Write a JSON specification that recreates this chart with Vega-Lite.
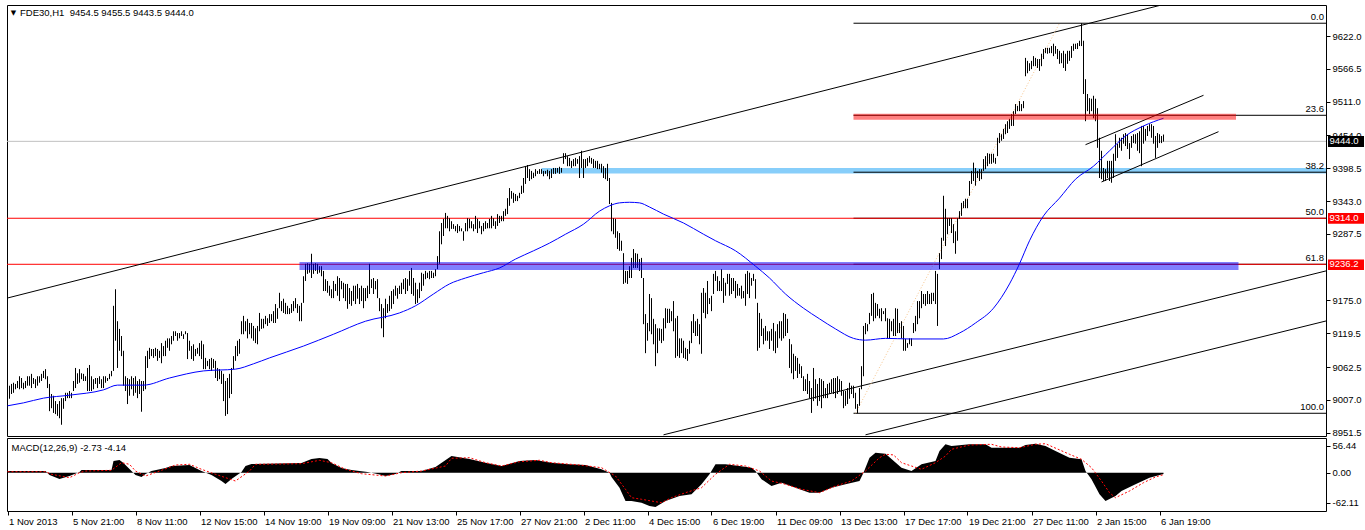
{
"$schema": "https://vega.github.io/schema/vega-lite/v6.json",
"background": "#FFFFFF",
"padding": {"left": 5, "top": 4, "right": 0, "bottom": 0},
"bounds": "flush",
"spacing": 2,
"config": {"view": {"stroke": "#000000", "strokeWidth": 1}, "font": "Liberation Sans", "text": {"font": "Liberation Sans", "fontSize": 9.5, "color": "#000000"},
 "axis": {"labelFont": "Liberation Sans", "labelFontSize": 9.5, "labelColor": "#000000", "tickColor": "#000000", "tickSize": 4, "labelPadding": 2, "domain": false, "grid": false, "title": null, "labelOverlap": false}},
"datasets": {
"bars": [
{"i":0,"h":9019,"l":8992},{"i":1,"h":9031,"l":9009},{"i":2,"h":9034,"l":9017},{"i":3,"h":9036,"l":9019},{"i":4,"h":9034,"l":9025},{"i":5,"h":9039,"l":9027},{"i":6,"h":9047,"l":9025},{"i":7,"h":9044,"l":9027},{"i":8,"h":9036,"l":9025},{"i":9,"h":9039,"l":9027},
{"i":10,"h":9047,"l":9031},{"i":11,"h":9047,"l":9031},{"i":12,"h":9051,"l":9027},{"i":13,"h":9044,"l":9034},{"i":14,"h":9042,"l":9027},{"i":15,"h":9047,"l":9031},{"i":16,"h":9047,"l":9036},{"i":17,"h":9051,"l":9039},{"i":18,"h":9056,"l":9044},{"i":19,"h":9059,"l":9042},
{"i":20,"h":9047,"l":9027},{"i":21,"h":9034,"l":8988},{"i":22,"h":9017,"l":8993},{"i":23,"h":9014,"l":8985},{"i":24,"h":9005,"l":8983},{"i":25,"h":9000,"l":8980},{"i":26,"h":9005,"l":8976},{"i":27,"h":9010,"l":8965},{"i":28,"h":9010,"l":8992},{"i":29,"h":9019,"l":9005},
{"i":30,"h":9019,"l":9010},{"i":31,"h":9022,"l":9010},{"i":32,"h":9019,"l":9010},{"i":33,"h":9039,"l":9022},{"i":34,"h":9061,"l":9027},{"i":35,"h":9052,"l":9034},{"i":36,"h":9059,"l":9036},{"i":37,"h":9052,"l":9042},{"i":38,"h":9051,"l":9039},{"i":39,"h":9047,"l":9039},
{"i":40,"h":9061,"l":9022},{"i":41,"h":9066,"l":9022},{"i":42,"h":9047,"l":9022},{"i":43,"h":9042,"l":9025},{"i":44,"h":9044,"l":9034},{"i":45,"h":9044,"l":9027},{"i":46,"h":9047,"l":9034},{"i":47,"h":9042,"l":9027},{"i":48,"h":9047,"l":9027},{"i":49,"h":9047,"l":9036},
{"i":50,"h":9044,"l":9039},{"i":51,"h":9051,"l":9042},{"i":52,"h":9056,"l":9047},{"i":53,"h":9166,"l":9056},{"i":54,"h":9194,"l":9107},{"i":55,"h":9140,"l":9061},{"i":56,"h":9127,"l":9090},{"i":57,"h":9115,"l":9081},{"i":58,"h":9090,"l":9031},{"i":59,"h":9047,"l":9022},
{"i":60,"h":9044,"l":9000},{"i":61,"h":9042,"l":9014},{"i":62,"h":9047,"l":9025},{"i":63,"h":9044,"l":9014},{"i":64,"h":9047,"l":9019},{"i":65,"h":9039,"l":9010},{"i":66,"h":9042,"l":9017},{"i":67,"h":9039,"l":8987},{"i":68,"h":9039,"l":9022},{"i":69,"h":9081,"l":9025},
{"i":70,"h":9090,"l":9061},{"i":71,"h":9095,"l":9076},{"i":72,"h":9093,"l":9081},{"i":73,"h":9093,"l":9078},{"i":74,"h":9095,"l":9081},{"i":75,"h":9093,"l":9073},{"i":76,"h":9090,"l":9078},{"i":77,"h":9103,"l":9069},{"i":78,"h":9098,"l":9081},{"i":79,"h":9107,"l":9081},
{"i":80,"h":9111,"l":9095},{"i":81,"h":9111,"l":9090},{"i":82,"h":9115,"l":9101},{"i":83,"h":9123,"l":9107},{"i":84,"h":9123,"l":9115},{"i":85,"h":9120,"l":9107},{"i":86,"h":9120,"l":9111},{"i":87,"h":9123,"l":9115},{"i":88,"h":9118,"l":9110},{"i":89,"h":9123,"l":9118},
{"i":90,"h":9120,"l":9076},{"i":91,"h":9107,"l":9090},{"i":92,"h":9098,"l":9076},{"i":93,"h":9101,"l":9073},{"i":94,"h":9093,"l":9081},{"i":95,"h":9095,"l":9085},{"i":96,"h":9103,"l":9081},{"i":97,"h":9107,"l":9076},{"i":98,"h":9101,"l":9059},{"i":99,"h":9078,"l":9059},
{"i":100,"h":9073,"l":9064},{"i":101,"h":9076,"l":9059},{"i":102,"h":9078,"l":9056},{"i":103,"h":9076,"l":9061},{"i":104,"h":9073,"l":9044},{"i":105,"h":9061,"l":9039},{"i":106,"h":9059,"l":9042},{"i":107,"h":9056,"l":9034},{"i":108,"h":9051,"l":9005},{"i":109,"h":9039,"l":8980},
{"i":110,"h":9044,"l":8983},{"i":111,"h":9051,"l":9010},{"i":112,"h":9061,"l":9017},{"i":113,"h":9081,"l":9059},{"i":114,"h":9098,"l":9073},{"i":115,"h":9107,"l":9081},{"i":116,"h":9110,"l":9085},{"i":117,"h":9140,"l":9118},{"i":118,"h":9149,"l":9118},{"i":119,"h":9140,"l":9123},
{"i":120,"h":9144,"l":9111},{"i":121,"h":9137,"l":9118},{"i":122,"h":9137,"l":9111},{"i":123,"h":9132,"l":9107},{"i":124,"h":9128,"l":9103},{"i":125,"h":9132,"l":9101},{"i":126,"h":9154,"l":9123},{"i":127,"h":9144,"l":9127},{"i":128,"h":9144,"l":9128},{"i":129,"h":9149,"l":9135},
{"i":130,"h":9145,"l":9132},{"i":131,"h":9152,"l":9137},{"i":132,"h":9152,"l":9140},{"i":133,"h":9157,"l":9137},{"i":134,"h":9169,"l":9137},{"i":135,"h":9162,"l":9144},{"i":136,"h":9188,"l":9162},{"i":137,"h":9174,"l":9157},{"i":138,"h":9178,"l":9154},{"i":139,"h":9171,"l":9152},
{"i":140,"h":9166,"l":9152},{"i":141,"h":9162,"l":9152},{"i":142,"h":9169,"l":9154},{"i":143,"h":9174,"l":9157},{"i":144,"h":9179,"l":9162},{"i":145,"h":9169,"l":9154},{"i":146,"h":9166,"l":9140},{"i":147,"h":9171,"l":9140},{"i":148,"h":9216,"l":9171},{"i":149,"h":9237,"l":9208},
{"i":150,"h":9238,"l":9220},{"i":151,"h":9237,"l":9222},{"i":152,"h":9254,"l":9213},{"i":153,"h":9237,"l":9220},{"i":154,"h":9238,"l":9225},{"i":155,"h":9237,"l":9220},{"i":156,"h":9233,"l":9222},{"i":157,"h":9233,"l":9216},{"i":158,"h":9225,"l":9191},{"i":159,"h":9211,"l":9191},
{"i":160,"h":9208,"l":9188},{"i":161,"h":9200,"l":9183},{"i":162,"h":9194,"l":9179},{"i":163,"h":9208,"l":9179},{"i":164,"h":9203,"l":9191},{"i":165,"h":9216,"l":9183},{"i":166,"h":9213,"l":9174},{"i":167,"h":9208,"l":9194},{"i":168,"h":9205,"l":9179},{"i":169,"h":9203,"l":9174},
{"i":170,"h":9203,"l":9161},{"i":171,"h":9196,"l":9169},{"i":172,"h":9191,"l":9166},{"i":173,"h":9200,"l":9174},{"i":174,"h":9200,"l":9169},{"i":175,"h":9203,"l":9178},{"i":176,"h":9196,"l":9169},{"i":177,"h":9200,"l":9174},{"i":178,"h":9196,"l":9162},{"i":179,"h":9196,"l":9174},
{"i":180,"h":9200,"l":9179},{"i":181,"h":9237,"l":9186},{"i":182,"h":9211,"l":9196},{"i":183,"h":9213,"l":9186},{"i":184,"h":9208,"l":9194},{"i":185,"h":9211,"l":9179},{"i":186,"h":9179,"l":9157},{"i":187,"h":9169,"l":9128},{"i":188,"h":9162,"l":9113},{"i":189,"h":9178,"l":9145},
{"i":190,"h":9169,"l":9154},{"i":191,"h":9183,"l":9157},{"i":192,"h":9191,"l":9161},{"i":193,"h":9194,"l":9169},{"i":194,"h":9200,"l":9183},{"i":195,"h":9196,"l":9178},{"i":196,"h":9200,"l":9186},{"i":197,"h":9205,"l":9186},{"i":198,"h":9211,"l":9194},{"i":199,"h":9213,"l":9186},
{"i":200,"h":9211,"l":9191},{"i":201,"h":9225,"l":9200},{"i":202,"h":9230,"l":9186},{"i":203,"h":9213,"l":9183},{"i":204,"h":9205,"l":9169},{"i":205,"h":9194,"l":9171},{"i":206,"h":9205,"l":9179},{"i":207,"h":9222,"l":9191},{"i":208,"h":9220,"l":9200},{"i":209,"h":9225,"l":9211},
{"i":210,"h":9222,"l":9213},{"i":211,"h":9225,"l":9211},{"i":212,"h":9225,"l":9213},{"i":213,"h":9222,"l":9213},{"i":214,"h":9228,"l":9216},{"i":215,"h":9250,"l":9228},{"i":216,"h":9292,"l":9237},{"i":217,"h":9306,"l":9270},{"i":218,"h":9313,"l":9284},{"i":219,"h":9323,"l":9297},
{"i":220,"h":9318,"l":9297},{"i":221,"h":9314,"l":9292},{"i":222,"h":9309,"l":9296},{"i":223,"h":9304,"l":9296},{"i":224,"h":9301,"l":9292},{"i":225,"h":9304,"l":9289},{"i":226,"h":9301,"l":9292},{"i":227,"h":9297,"l":9292},{"i":228,"h":9292,"l":9276},{"i":229,"h":9306,"l":9292},
{"i":230,"h":9314,"l":9292},{"i":231,"h":9313,"l":9297},{"i":232,"h":9309,"l":9297},{"i":233,"h":9304,"l":9292},{"i":234,"h":9318,"l":9296},{"i":235,"h":9313,"l":9289},{"i":236,"h":9309,"l":9297},{"i":237,"h":9301,"l":9287},{"i":238,"h":9306,"l":9292},{"i":239,"h":9309,"l":9296},
{"i":240,"h":9306,"l":9297},{"i":241,"h":9313,"l":9297},{"i":242,"h":9318,"l":9297},{"i":243,"h":9314,"l":9301},{"i":244,"h":9309,"l":9296},{"i":245,"h":9321,"l":9301},{"i":246,"h":9318,"l":9306},{"i":247,"h":9318,"l":9309},{"i":248,"h":9326,"l":9309},{"i":249,"h":9330,"l":9318},
{"i":250,"h":9348,"l":9321},{"i":251,"h":9365,"l":9335},{"i":252,"h":9360,"l":9347},{"i":253,"h":9357,"l":9340},{"i":254,"h":9355,"l":9343},{"i":255,"h":9352,"l":9343},{"i":256,"h":9357,"l":9348},{"i":257,"h":9369,"l":9355},{"i":258,"h":9382,"l":9357},{"i":259,"h":9402,"l":9372},
{"i":260,"h":9404,"l":9382},{"i":261,"h":9397,"l":9377},{"i":262,"h":9394,"l":9380},{"i":263,"h":9391,"l":9382},{"i":264,"h":9397,"l":9385},{"i":265,"h":9394,"l":9389},{"i":266,"h":9397,"l":9389},{"i":267,"h":9397,"l":9389},{"i":268,"h":9394,"l":9385},{"i":269,"h":9394,"l":9389},
{"i":270,"h":9396,"l":9385},{"i":271,"h":9394,"l":9380},{"i":272,"h":9397,"l":9382},{"i":273,"h":9399,"l":9389},{"i":274,"h":9399,"l":9389},{"i":275,"h":9399,"l":9391},{"i":276,"h":9401,"l":9389},{"i":277,"h":9399,"l":9391},{"i":278,"h":9424,"l":9406},{"i":279,"h":9424,"l":9414},
{"i":280,"h":9419,"l":9402},{"i":281,"h":9416,"l":9402},{"i":282,"h":9411,"l":9399},{"i":283,"h":9414,"l":9402},{"i":284,"h":9416,"l":9402},{"i":285,"h":9414,"l":9406},{"i":286,"h":9419,"l":9382},{"i":287,"h":9428,"l":9399},{"i":288,"h":9414,"l":9382},{"i":289,"h":9414,"l":9399},
{"i":290,"h":9416,"l":9402},{"i":291,"h":9419,"l":9408},{"i":292,"h":9416,"l":9406},{"i":293,"h":9414,"l":9399},{"i":294,"h":9411,"l":9399},{"i":295,"h":9411,"l":9397},{"i":296,"h":9406,"l":9397},{"i":297,"h":9406,"l":9391},{"i":298,"h":9402,"l":9382},{"i":299,"h":9399,"l":9380},
{"i":300,"h":9406,"l":9377},{"i":301,"h":9382,"l":9338},{"i":302,"h":9340,"l":9292},{"i":303,"h":9314,"l":9287},{"i":304,"h":9313,"l":9281},{"i":305,"h":9292,"l":9262},{"i":306,"h":9289,"l":9259},{"i":307,"h":9276,"l":9259},{"i":308,"h":9255,"l":9203},{"i":309,"h":9225,"l":9205},
{"i":310,"h":9225,"l":9203},{"i":311,"h":9233,"l":9213},{"i":312,"h":9247,"l":9213},{"i":313,"h":9262,"l":9230},{"i":314,"h":9255,"l":9230},{"i":315,"h":9254,"l":9230},{"i":316,"h":9245,"l":9225},{"i":317,"h":9247,"l":9213},{"i":318,"h":9213,"l":9135},{"i":319,"h":9152,"l":9086},
{"i":320,"h":9137,"l":9107},{"i":321,"h":9186,"l":9123},{"i":322,"h":9179,"l":9118},{"i":323,"h":9144,"l":9101},{"i":324,"h":9135,"l":9064},{"i":325,"h":9128,"l":9086},{"i":326,"h":9128,"l":9107},{"i":327,"h":9127,"l":9103},{"i":328,"h":9145,"l":9107},{"i":329,"h":9162,"l":9128},
{"i":330,"h":9161,"l":9137},{"i":331,"h":9161,"l":9137},{"i":332,"h":9157,"l":9140},{"i":333,"h":9174,"l":9123},{"i":334,"h":9145,"l":9078},{"i":335,"h":9149,"l":9081},{"i":336,"h":9111,"l":9078},{"i":337,"h":9111,"l":9086},{"i":338,"h":9107,"l":9078},{"i":339,"h":9095,"l":9076},
{"i":340,"h":9093,"l":9073},{"i":341,"h":9107,"l":9085},{"i":342,"h":9140,"l":9103},{"i":343,"h":9152,"l":9120},{"i":344,"h":9140,"l":9115},{"i":345,"h":9144,"l":9115},{"i":346,"h":9135,"l":9101},{"i":347,"h":9188,"l":9085},{"i":348,"h":9196,"l":9154},{"i":349,"h":9188,"l":9145},
{"i":350,"h":9208,"l":9152},{"i":351,"h":9179,"l":9169},{"i":352,"h":9183,"l":9157},{"i":353,"h":9220,"l":9186},{"i":354,"h":9225,"l":9208},{"i":355,"h":9216,"l":9191},{"i":356,"h":9208,"l":9191},{"i":357,"h":9228,"l":9191},{"i":358,"h":9213,"l":9171},{"i":359,"h":9205,"l":9183},
{"i":360,"h":9220,"l":9203},{"i":361,"h":9220,"l":9183},{"i":362,"h":9213,"l":9186},{"i":363,"h":9213,"l":9191},{"i":364,"h":9208,"l":9179},{"i":365,"h":9203,"l":9183},{"i":366,"h":9196,"l":9183},{"i":367,"h":9200,"l":9178},{"i":368,"h":9191,"l":9179},{"i":369,"h":9220,"l":9166},
{"i":370,"h":9225,"l":9186},{"i":371,"h":9222,"l":9179},{"i":372,"h":9213,"l":9200},{"i":373,"h":9220,"l":9208},{"i":374,"h":9211,"l":9178},{"i":375,"h":9171,"l":9090},{"i":376,"h":9154,"l":9095},{"i":377,"h":9144,"l":9115},{"i":378,"h":9128,"l":9101},{"i":379,"h":9132,"l":9107},
{"i":380,"h":9123,"l":9107},{"i":381,"h":9123,"l":9093},{"i":382,"h":9127,"l":9107},{"i":383,"h":9137,"l":9090},{"i":384,"h":9123,"l":9086},{"i":385,"h":9135,"l":9095},{"i":386,"h":9140,"l":9111},{"i":387,"h":9140,"l":9107},{"i":388,"h":9154,"l":9111},{"i":389,"h":9152,"l":9115},
{"i":390,"h":9144,"l":9120},{"i":391,"h":9110,"l":9061},{"i":392,"h":9101,"l":9052},{"i":393,"h":9085,"l":9042},{"i":394,"h":9081,"l":9056},{"i":395,"h":9078,"l":9044},{"i":396,"h":9068,"l":9051},{"i":397,"h":9064,"l":9044},{"i":398,"h":9047,"l":9022},{"i":399,"h":9042,"l":9022},
{"i":400,"h":9051,"l":9017},{"i":401,"h":9039,"l":9010},{"i":402,"h":9027,"l":8985},{"i":403,"h":9061,"l":9005},{"i":404,"h":9042,"l":9009},{"i":405,"h":9034,"l":8997},{"i":406,"h":9044,"l":9005},{"i":407,"h":9042,"l":8993},{"i":408,"h":9039,"l":9010},{"i":409,"h":9027,"l":9010},
{"i":410,"h":9034,"l":9010},{"i":411,"h":9036,"l":9017},{"i":412,"h":9042,"l":9019},{"i":413,"h":9044,"l":9017},{"i":414,"h":9044,"l":9010},{"i":415,"h":9047,"l":9017},{"i":416,"h":9042,"l":9022},{"i":417,"h":9039,"l":9014},{"i":418,"h":9022,"l":8993},{"i":419,"h":9022,"l":8997},
{"i":420,"h":9027,"l":9000},{"i":421,"h":9036,"l":9009},{"i":422,"h":9031,"l":9017},{"i":423,"h":9031,"l":9010},{"i":424,"h":9019,"l":8992},{"i":425,"h":9000,"l":8984.4},{"i":426,"h":9027,"l":8997},{"i":427,"h":9064,"l":9025},{"i":428,"h":9132,"l":9047},{"i":429,"h":9137,"l":9118},
{"i":430,"h":9135,"l":9123},{"i":431,"h":9154,"l":9135},{"i":432,"h":9186,"l":9149},{"i":433,"h":9188,"l":9140},{"i":434,"h":9171,"l":9145},{"i":435,"h":9169,"l":9149},{"i":436,"h":9161,"l":9145},{"i":437,"h":9162,"l":9140},{"i":438,"h":9157,"l":9152},{"i":439,"h":9162,"l":9140},
{"i":440,"h":9145,"l":9111},{"i":441,"h":9144,"l":9111},{"i":442,"h":9140,"l":9123},{"i":443,"h":9144,"l":9115},{"i":444,"h":9162,"l":9115},{"i":445,"h":9161,"l":9120},{"i":446,"h":9137,"l":9120},{"i":447,"h":9140,"l":9111},{"i":448,"h":9132,"l":9090},{"i":449,"h":9110,"l":9090},
{"i":450,"h":9103,"l":9095},{"i":451,"h":9111,"l":9101},{"i":452,"h":9111,"l":9098},{"i":453,"h":9137,"l":9120},{"i":454,"h":9149,"l":9123},{"i":455,"h":9174,"l":9135},{"i":456,"h":9174,"l":9145},{"i":457,"h":9191,"l":9162},{"i":458,"h":9186,"l":9169},{"i":459,"h":9186,"l":9166},
{"i":460,"h":9191,"l":9169},{"i":461,"h":9186,"l":9169},{"i":462,"h":9188,"l":9169},{"i":463,"h":9188,"l":9174},{"i":464,"h":9225,"l":9169},{"i":465,"h":9220,"l":9132},{"i":466,"h":9255,"l":9228},{"i":467,"h":9281,"l":9245},{"i":468,"h":9352,"l":9276},{"i":469,"h":9330,"l":9267},
{"i":470,"h":9314,"l":9287},{"i":471,"h":9314,"l":9301},{"i":472,"h":9314,"l":9289},{"i":473,"h":9304,"l":9272},{"i":474,"h":9292,"l":9254},{"i":475,"h":9314,"l":9276},{"i":476,"h":9326,"l":9313},{"i":477,"h":9340,"l":9318},{"i":478,"h":9343,"l":9331},{"i":479,"h":9347,"l":9331},
{"i":480,"h":9347,"l":9331},{"i":481,"h":9377,"l":9352},{"i":482,"h":9394,"l":9372},{"i":483,"h":9408,"l":9377},{"i":484,"h":9399,"l":9369},{"i":485,"h":9394,"l":9382},{"i":486,"h":9397,"l":9377},{"i":487,"h":9397,"l":9380},{"i":488,"h":9414,"l":9394},{"i":489,"h":9419,"l":9397},
{"i":490,"h":9424,"l":9402},{"i":491,"h":9423,"l":9406},{"i":492,"h":9423,"l":9406},{"i":493,"h":9423,"l":9408},{"i":494,"h":9416,"l":9406},{"i":495,"h":9450,"l":9419},{"i":496,"h":9458,"l":9441},{"i":497,"h":9456,"l":9445},{"i":498,"h":9465,"l":9448},{"i":499,"h":9473,"l":9456},
{"i":500,"h":9478,"l":9458},{"i":501,"h":9482,"l":9465},{"i":502,"h":9490,"l":9470},{"i":503,"h":9495,"l":9470},{"i":504,"h":9507,"l":9490},{"i":505,"h":9504,"l":9495},{"i":506,"h":9512,"l":9495},{"i":507,"h":9507,"l":9495},{"i":508,"h":9512,"l":9500},{"i":509,"h":9585,"l":9554},
{"i":510,"h":9580,"l":9559},{"i":511,"h":9576,"l":9563},{"i":512,"h":9580,"l":9566},{"i":513,"h":9588,"l":9571},{"i":514,"h":9585,"l":9571},{"i":515,"h":9583,"l":9568},{"i":516,"h":9583,"l":9563},{"i":517,"h":9592,"l":9571},{"i":518,"h":9600,"l":9583},{"i":519,"h":9602,"l":9593},
{"i":520,"h":9602,"l":9592},{"i":521,"h":9602,"l":9593},{"i":522,"h":9605,"l":9593},{"i":523,"h":9609,"l":9588},{"i":524,"h":9605,"l":9592},{"i":525,"h":9600,"l":9583},{"i":526,"h":9597,"l":9575},{"i":527,"h":9593,"l":9576},{"i":528,"h":9597,"l":9568},{"i":529,"h":9592,"l":9563},
{"i":530,"h":9597,"l":9575},{"i":531,"h":9597,"l":9580},{"i":532,"h":9605,"l":9585},{"i":533,"h":9609,"l":9597},{"i":534,"h":9609,"l":9600},{"i":535,"h":9610,"l":9600},{"i":536,"h":9614,"l":9605},{"i":537,"h":9643.6,"l":9605},{"i":538,"h":9614,"l":9524},{"i":539,"h":9549,"l":9478},
{"i":540,"h":9524,"l":9495},{"i":541,"h":9517,"l":9490},{"i":542,"h":9516,"l":9495},{"i":543,"h":9521,"l":9483},{"i":544,"h":9516,"l":9478},{"i":545,"h":9500,"l":9433},{"i":546,"h":9450,"l":9382},{"i":547,"h":9428,"l":9380},{"i":548,"h":9399,"l":9377},{"i":549,"h":9397,"l":9377},
{"i":550,"h":9411,"l":9382},{"i":551,"h":9411,"l":9377},{"i":552,"h":9411,"l":9374},{"i":553,"h":9423,"l":9382},{"i":554,"h":9456,"l":9411},{"i":555,"h":9440,"l":9416},{"i":556,"h":9450,"l":9433},{"i":557,"h":9450,"l":9428},{"i":558,"h":9456,"l":9440},{"i":559,"h":9458,"l":9436},
{"i":560,"h":9456,"l":9431},{"i":561,"h":9441,"l":9414},{"i":562,"h":9453,"l":9433},{"i":563,"h":9456,"l":9441},{"i":564,"h":9456,"l":9440},{"i":565,"h":9458,"l":9428},{"i":566,"h":9461,"l":9424},{"i":567,"h":9470,"l":9402},{"i":568,"h":9470,"l":9440},{"i":569,"h":9465,"l":9445},
{"i":570,"h":9470,"l":9453},{"i":571,"h":9473,"l":9461},{"i":572,"h":9473,"l":9450},{"i":573,"h":9470,"l":9440},{"i":574,"h":9453,"l":9416},{"i":575,"h":9458,"l":9433},{"i":576,"h":9456,"l":9441},{"i":577,"h":9453,"l":9441},{"i":578,"h":9455.5,"l":9443.5}
],
"ma": [
{"i":0,"p":8997},{"i":8,"p":9002},{"i":18,"p":9010},{"i":31,"p":9015},{"i":48,"p":9024},{"i":55,"p":9032},{"i":68,"p":9032},{"i":81,"p":9044},{"i":98,"p":9056},{"i":114,"p":9059},{"i":123,"p":9068},{"i":131,"p":9078},{"i":148,"p":9098},{"i":163,"p":9118},{"i":179,"p":9140},{"i":196,"p":9154},{"i":204,"p":9166},{"i":213,"p":9186},{"i":221,"p":9203},{"i":229,"p":9213},{"i":238,"p":9222},{"i":246,"p":9230},{"i":254,"p":9245},{"i":263,"p":9259},{"i":271,"p":9272},{"i":279,"p":9287},{"i":288,"p":9304},{"i":296,"p":9326},{"i":301,"p":9335},{"i":306,"p":9340},{"i":311,"p":9341},{"i":316,"p":9340},{"i":321,"p":9333},{"i":328,"p":9321},{"i":338,"p":9306},{"i":348,"p":9287},{"i":354,"p":9276},{"i":364,"p":9259},{"i":374,"p":9233},{"i":381,"p":9213},{"i":389,"p":9186},{"i":398,"p":9162},{"i":406,"p":9144},{"i":414,"p":9127},{"i":423,"p":9111},{"i":429,"p":9108},{"i":439,"p":9111},{"i":451,"p":9110},{"i":468,"p":9110},{"i":476,"p":9120},{"i":484,"p":9137},{"i":493,"p":9162},{"i":501,"p":9203},{"i":506,"p":9237},{"i":511,"p":9276},{"i":518,"p":9318},{"i":526,"p":9348},{"i":534,"p":9380},{"i":543,"p":9402},{"i":551,"p":9428},{"i":559,"p":9453},{"i":568,"p":9470},{"i":578,"p":9483}
],
"macd": [
{"i":0,"m":3.5},{"i":19,"m":3.5},{"i":21,"m":-4.8},{"i":26,"m":-13.1},{"i":31,"m":-6.9},{"i":36,"m":1.5},{"i":37,"m":5.6},{"i":52,"m":5.6},{"i":53,"m":24.3},{"i":56,"m":26.4},{"i":58,"m":20.2},{"i":61,"m":7.7},{"i":64,"m":-4.8},{"i":67,"m":-8.9},{"i":69,"m":-2.7},{"i":72,"m":3.5},{"i":79,"m":9.8},{"i":82,"m":13.9},{"i":91,"m":16},{"i":97,"m":3.5},{"i":102,"m":-4.8},{"i":107,"m":-17.3},{"i":109,"m":-23.5},{"i":112,"m":-13.1},{"i":117,"m":1.5},{"i":119,"m":13.9},{"i":122,"m":18.1},{"i":147,"m":20.2},{"i":152,"m":28.5},{"i":156,"m":30.6},{"i":160,"m":28.5},{"i":162,"m":20.2},{"i":167,"m":9.8},{"i":172,"m":5.6},{"i":180,"m":1.5},{"i":185,"m":-2.7},{"i":189,"m":-6.9},{"i":194,"m":-2.7},{"i":197,"m":3.5},{"i":207,"m":3.5},{"i":214,"m":11.9},{"i":222,"m":34.7},{"i":231,"m":28.5},{"i":239,"m":20.8},{"i":247,"m":13.9},{"i":256,"m":24.3},{"i":264,"m":26.4},{"i":272,"m":20.8},{"i":281,"m":17.5},{"i":289,"m":16},{"i":297,"m":7.1},{"i":301,"m":0},{"i":302,"m":-8.9},{"i":306,"m":-31.2},{"i":309,"m":-58.9},{"i":312,"m":-58.9},{"i":317,"m":-62.4},{"i":321,"m":-69.3},{"i":324,"m":-71.3},{"i":329,"m":-58.9},{"i":336,"m":-48.5},{"i":342,"m":-44.9},{"i":347,"m":-24.1},{"i":351,"m":-3.3},{"i":354,"m":17.5},{"i":359,"m":17.5},{"i":366,"m":13.9},{"i":372,"m":10.4},{"i":374,"m":3.5},{"i":377,"m":-13.7},{"i":382,"m":-27.7},{"i":387,"m":-20.8},{"i":394,"m":-31.2},{"i":401,"m":-41.6},{"i":406,"m":-41.6},{"i":412,"m":-31.2},{"i":419,"m":-24.1},{"i":426,"m":-17.3},{"i":428,"m":0},{"i":431,"m":31.2},{"i":434,"m":41.6},{"i":439,"m":39.5},{"i":442,"m":28.5},{"i":447,"m":10.4},{"i":452,"m":3.5},{"i":457,"m":17.5},{"i":464,"m":24.3},{"i":466,"m":45.1},{"i":469,"m":59.1},{"i":472,"m":55.5},{"i":481,"m":59.1},{"i":489,"m":59.1},{"i":492,"m":52},{"i":506,"m":52},{"i":509,"m":57.6},{"i":514,"m":60.3},{"i":519,"m":55.5},{"i":524,"m":45.1},{"i":531,"m":31.2},{"i":537,"m":27.9},{"i":539,"m":3.5},{"i":542,"m":-13.7},{"i":546,"m":-44.9},{"i":549,"m":-58.9},{"i":554,"m":-48.5},{"i":557,"m":-38.1},{"i":564,"m":-24.1},{"i":571,"m":-10.4},{"i":578,"m":-2.73}
],
"sig": [
{"i":0,"s":2.1},{"i":19,"s":2.1},{"i":22,"s":-3.3},{"i":31,"s":-10.4},{"i":36,"s":0},{"i":39,"s":3.5},{"i":52,"s":5},{"i":57,"s":20.8},{"i":61,"s":17.5},{"i":64,"s":3.5},{"i":69,"s":-6.9},{"i":76,"s":3.5},{"i":84,"s":16},{"i":91,"s":17.5},{"i":97,"s":7.1},{"i":104,"s":-3.3},{"i":114,"s":-17.3},{"i":121,"s":3.5},{"i":124,"s":17.5},{"i":147,"s":18.7},{"i":156,"s":25.8},{"i":162,"s":20.8},{"i":169,"s":7.1},{"i":177,"s":-2.1},{"i":189,"s":-6.9},{"i":197,"s":0},{"i":207,"s":3.5},{"i":219,"s":13.9},{"i":222,"s":30},{"i":231,"s":31.2},{"i":239,"s":20.8},{"i":247,"s":13.9},{"i":256,"s":22.9},{"i":266,"s":25.8},{"i":272,"s":20.8},{"i":286,"s":16},{"i":297,"s":10.4},{"i":304,"s":-6.9},{"i":309,"s":-34.5},{"i":312,"s":-52},{"i":317,"s":-55.3},{"i":322,"s":-58.9},{"i":327,"s":-62.4},{"i":332,"s":-52},{"i":339,"s":-41.6},{"i":347,"s":-31.2},{"i":354,"s":-3.3},{"i":361,"s":17.5},{"i":369,"s":13.9},{"i":376,"s":3.5},{"i":382,"s":-17.3},{"i":389,"s":-24.1},{"i":397,"s":-34.5},{"i":406,"s":-41.6},{"i":414,"s":-27.7},{"i":422,"s":-17.3},{"i":429,"s":3.5},{"i":436,"s":31.2},{"i":439,"s":38.3},{"i":443,"s":37},{"i":447,"s":20.8},{"i":452,"s":13.9},{"i":457,"s":7.1},{"i":464,"s":20.8},{"i":469,"s":34.7},{"i":472,"s":48.7},{"i":481,"s":57.6},{"i":492,"s":59.1},{"i":497,"s":53.5},{"i":506,"s":52},{"i":514,"s":59.1},{"i":519,"s":60.3},{"i":531,"s":38.3},{"i":537,"s":27.9},{"i":542,"s":10.4},{"i":547,"s":-17.3},{"i":551,"s":-41.6},{"i":554,"s":-52},{"i":561,"s":-38.1},{"i":568,"s":-20.8},{"i":574,"s":-8.9},{"i":578,"s":-4.14}
],
"trend": [
{"id":"up","i":0,"p":9179.2},{"id":"up","i":579.5,"p":9676.6},
{"id":"lo1","i":328,"p":8948},{"id":"lo1","i":659.25,"p":9225},
{"id":"lo2","i":429,"p":8948},{"id":"lo2","i":659.25,"p":9140.4},
{"id":"ch1","i":539,"p":9438.3},{"id":"ch1","i":598,"p":9521.8},
{"id":"ch2","i":547,"p":9375.3},{"id":"ch2","i":605.5,"p":9460.3}
],
"fibln": [{"i":424,"p":8984.4},{"i":526,"p":9643.6}],
"fib": [{"lv":"0.0","p":9643.6,"i":423,"i2":659.25},{"lv":"23.6","p":9488,"i":423,"i2":659.25},{"lv":"38.2","p":9391.8,"i":423,"i2":659.25},{"lv":"50.0","p":9314,"i":423,"i2":659.25},{"lv":"61.8","p":9236.2,"i":423,"i2":659.25},{"lv":"100.0","p":8984.4,"i":423,"i2":659.25}],
"hlines": [{"p":9314},{"p":9236.2}],
"tags": [{"t":"9444.0","c":9444,"i":660.25,"i2":678.25,"p":9453,"p2":9434.5},{"t":"9314.0","c":9314,"i":660.25,"i2":678.25,"p":9323,"p2":9304.5},{"t":"9236.2","c":9236.2,"i":660.25,"i2":678.25,"p":9244.5,"p2":9226.5}]
},
"vconcat": [
{
"width": 1319, "height": 431,
"encoding": {
 "x": {"field": "i", "type": "quantitative", "scale": {"domain": [-0.25, 659.25], "nice": false, "zero": false}, "axis": null},
 "y": {"field": "p", "type": "quantitative", "scale": {"domain": [8946, 9674.4], "nice": false, "zero": false},
  "axis": {"orient": "right", "values": [8951.5, 9007, 9062.5, 9119.5, 9175, 9287.5, 9343, 9398.5, 9454, 9511, 9566.5, 9622], "format": ".1f", "labelBaseline": "middle"}}
},
"layer": [
{"data": {"values": [{"i": 267, "i2": 659.25, "p": 9399, "p2": 9389.5}]}, "mark": {"type": "rect", "color": "#87CEFA"},
 "encoding": {"x2": {"field": "i2"}, "y2": {"field": "p2"}}},
{"data": {"name": "fib"}, "mark": {"type": "rule", "color": "#000000", "strokeWidth": 1},
 "encoding": {"x2": {"field": "i2"}}},
{"data": {"values": [{"p": 9444}]}, "mark": {"type": "rule", "color": "#C0C0C0", "strokeWidth": 1},
 "encoding": {"x": null}},
{"data": {"name": "hlines"}, "mark": {"type": "rule", "color": "#FF0000", "strokeWidth": 1},
 "encoding": {"x": null}},
{"data": {"name": "trend"}, "mark": {"type": "line", "color": "#000000", "strokeWidth": 1, "clip": true},
 "encoding": {"detail": {"field": "id"}}},
{"data": {"name": "fibln"}, "mark": {"type": "line", "color": "#F7C48B", "strokeWidth": 1, "strokeDash": [1, 2]},
 "encoding": {}},
{"data": {"name": "bars"}, "mark": {"type": "rule", "color": "#000000", "strokeWidth": 1},
 "encoding": {"y": {"field": "l", "type": "quantitative"}, "y2": {"field": "h"}}},
{"data": {"name": "ma"}, "mark": {"type": "line", "color": "#0000FF", "strokeWidth": 1, "interpolate": "monotone"},
 "encoding": {}},
{"data": {"values": [{"i": 146, "i2": 615.5, "p": 9240, "p2": 9226.5}]}, "mark": {"type": "rect", "color": "#0000FF", "opacity": 0.5},
 "encoding": {"x2": {"field": "i2"}, "y2": {"field": "p2"}}},
{"data": {"values": [{"i": 423, "i2": 614.25, "p": 9490.6, "p2": 9480.6}]}, "mark": {"type": "rect", "color": "#FF0000", "opacity": 0.5},
 "encoding": {"x2": {"field": "i2"}, "y2": {"field": "p2"}}},
{"data": {"name": "fib"}, "mark": {"type": "text", "align": "right", "baseline": "alphabetic", "dx": -2, "dy": -3, "fontSize": 9.5, "color": "#000000"},
 "encoding": {"x": {"field": "i2", "type": "quantitative"}, "text": {"field": "lv"}}},
{"data": {"name": "tags"}, "mark": {"type": "rect"},
 "encoding": {"x2": {"field": "i2"}, "y2": {"field": "p2"},
  "color": {"field": "t", "type": "nominal", "scale": {"domain": ["9444.0", "9314.0", "9236.2"], "range": ["#000000", "#FF0000", "#FF0000"]}, "legend": null}}},
{"data": {"name": "tags"}, "mark": {"type": "text", "align": "left", "baseline": "middle", "dx": 1.5, "fontSize": 9.5, "color": "#FFFFFF"},
 "encoding": {"y": {"field": "c", "type": "quantitative"}, "text": {"field": "t"}}},
{"data": {"values": [{"t": "▼", "i": 3, "p": 9660.9}]}, "mark": {"type": "text", "align": "center", "baseline": "middle", "fontSize": 7, "font": "DejaVu Sans", "color": "#000000"},
 "encoding": {"text": {"field": "t"}}},
{"data": {"values": [{"t": "FDE30,H1\u00a0 9454.5 9455.5 9443.5 9444.0", "i": 6.25, "p": 9660.9}]}, "mark": {"type": "text", "align": "left", "baseline": "middle", "fontSize": 9.5, "color": "#000000"},
 "encoding": {"text": {"field": "t"}}}
]
},
{
"width": 1319, "height": 73,
"encoding": {
 "x": {"field": "i", "type": "quantitative", "scale": {"domain": [-0.25, 659.25], "nice": false, "zero": false},
  "axis": {"orient": "bottom", "values": [0, 32, 64, 96, 128, 160, 192, 224, 256, 288, 320, 352, 384, 416, 448, 480, 512, 544, 576],
   "labelExpr": "['1 Nov 2013','5 Nov 21:00','8 Nov 11:00','12 Nov 15:00','14 Nov 19:00','19 Nov 09:00','21 Nov 13:00','25 Nov 17:00','27 Nov 21:00','2 Dec 11:00','4 Dec 15:00','6 Dec 19:00','11 Dec 09:00','13 Dec 13:00','17 Dec 17:00','19 Dec 21:00','27 Dec 11:00','2 Jan 15:00','6 Jan 19:00'][round(datum.value/32)]",
   "labelAlign": "left", "labelBaseline": "top", "labelPadding": 1, "labelOffset": 1, "labelFlush": false}},
 "y": {"field": "m", "type": "quantitative", "scale": {"domain": [-79.7, 72.2], "nice": false, "zero": false},
  "axis": {"orient": "right", "values": [-62.11, 0, 56.44], "labelExpr": "replace(format(datum.value, '.2f'), '\u2212', '-')", "labelBaseline": "middle"}}
},
"layer": [
{"data": {"name": "macd"}, "mark": {"type": "area", "color": "#000000", "opacity": 1, "interpolate": "linear"},
 "encoding": {"y2": {"datum": 0}}},
{"data": {"name": "sig"}, "mark": {"type": "line", "color": "#FF0000", "strokeWidth": 1, "strokeDash": [2, 2]},
 "encoding": {"y": {"field": "s", "type": "quantitative"}}},
{"data": {"values": [{"t": "MACD(12,26,9) -2.73 -4.14", "i": 2, "m": 52.4}]}, "mark": {"type": "text", "align": "left", "baseline": "middle", "fontSize": 9.5, "color": "#000000"},
 "encoding": {"text": {"field": "t"}}}
]
}
],
"resolve": {"scale": {"x": "independent", "y": "independent"}}
}
